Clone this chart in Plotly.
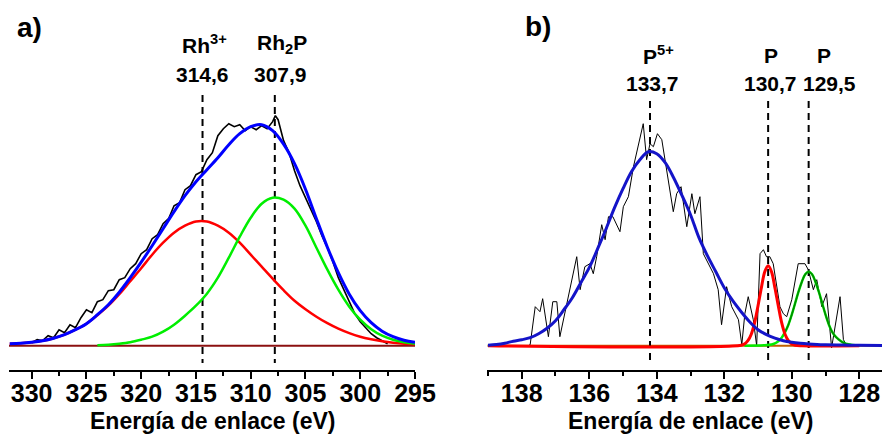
import plotly.graph_objects as go

# ---------------- Panel a) Rh 3d region ----------------
A_E_FIT = [332, 331, 330, 329, 328, 327, 326, 325, 324, 323, 322, 321, 320, 319, 318, 317,
           316, 315, 314, 313, 312, 311, 310, 309, 308, 307, 306, 305, 304, 303, 302, 301,
           300, 299, 298, 297, 296, 295]
A_RED = [2, 2.5, 3.5, 5, 7.5, 11, 16, 22, 30.5, 40, 51.5, 64.5, 77.5, 91, 103, 113,
         120, 124.2, 124.2, 120, 113, 103, 91, 79, 67, 55.5, 45, 36.5, 29, 22.5, 17, 12.5,
         9, 6.5, 4.5, 3, 2, 1.5]
A_GREEN = [None, None, None, None, None, None, None, None, 0.5, 1, 2, 3.5, 6, 9, 14, 21,
           30, 40, 52, 68, 88, 109, 128, 142, 148, 146, 137, 120, 98, 76, 56, 39,
           26, 16.5, 10, 6, 3.5, 2]
A_BLUE = [2, 2.5, 3.5, 5, 7.5, 11, 16, 22, 31, 41, 53.5, 68, 83.5, 100, 117, 134,
          150, 164, 176, 188, 201, 212, 219, 221, 215, 201.5, 182, 156.5, 127, 98.5, 73, 51.5,
          35, 23, 14.5, 9, 5.5, 3.5]
A_E_DATA = [330.0, 329.5, 329.0, 328.5, 328.0, 327.5, 327.0, 326.5, 326.0, 325.5, 325.0,
            324.5, 324.0, 323.5, 323.0, 322.5, 322.0, 321.5, 321.0, 320.5, 320.0, 319.5,
            319.0, 318.5, 318.0, 317.5, 317.0, 316.5, 316.0, 315.5, 315.0, 314.5, 314.0,
            313.5, 313.0, 312.5, 312.0, 311.5, 311.0, 310.5, 310.0, 309.5, 309.0, 308.5,
            308.0, 307.75, 307.5, 307.0, 306.5, 306.0, 305.5, 305.0, 304.5, 304.0, 303.5,
            303.0, 302.5, 302.0, 301.5, 301.0, 300.5, 300.0, 299.5, 299.0, 298.5, 298.0, 297.5]
A_DATA = [3, 6, 5, 10, 8, 16, 13, 21, 18, 28, 36,
          33, 44, 46, 55, 56, 66, 68, 77, 82, 92, 96,
          107, 111, 122, 127, 140, 143, 156, 160, 171, 174, 186,
          193, 210, 217, 222, 219, 221, 215, 219, 216, 220, 217,
          224, 230, 226, 205, 193, 175, 160, 148, 136, 124, 110,
          98, 84, 68, 56, 44, 32, 24, 18, 12, 8, 5, 2]
A_BASE_E = [332.07, 295]
A_BASE = [0, 0]
A_TICKS = [330, 325, 320, 315, 310, 305, 300, 295]
A_LINES = [314.4, 307.8]
A_NAMES = ["Rh<sup>3+</sup>", "Rh<sub>2</sub>P"]
A_VALUES = ["314,6", "307,9"]

# ---------------- Panel b) P 2p region ----------------
B_E_BLUE = [139.0, 138.75, 138.5, 138.25, 138.0, 137.75, 137.5, 137.25, 137.0, 136.75, 136.5,
            136.25, 136.0, 135.75, 135.5, 135.25, 135.0, 134.75, 134.5, 134.25, 134.0, 133.75,
            133.5, 133.25, 133.0, 132.75, 132.5, 132.25, 132.0, 131.75, 131.5, 131.25, 131.0,
            130.75, 130.5, 130.25, 130.0, 129.75, 129.5, 129.25, 129.0, 128.5, 128.0, 127.0]
B_BLUE = [0.5, 1.2, 2.5, 4.5, 6, 8, 12, 17.5, 25, 36, 48,
          63, 78, 97, 117, 138, 157, 174, 186, 194, 192, 183,
          168, 150, 131, 108, 90, 74, 58, 45, 34, 24, 16,
          11, 7.5, 5, 3.5, 2.5, 1.8, 1.3, 1, 0.6, 0.4, 0.2]
B_E_RED = [139.0, 131.5, 131.4, 131.3, 131.2, 131.1, 131.0, 130.9, 130.8, 130.7, 130.6, 130.5,
           130.4, 130.3, 130.2, 130.1, 130.0, 129.9, 129.7, 128.0]
B_RED = [0, 0.5, 1.8, 5, 11.5, 23, 40, 58, 74, 80, 74, 58,
         40, 23, 11.5, 5, 1.8, 0.5, 0, 0]
B_E_GREEN = [131.4, 130.8, 130.6, 130.5, 130.4, 130.3, 130.2, 130.1, 130.0, 129.9, 129.8, 129.7,
             129.6, 129.5, 129.4, 129.3, 129.2, 129.1, 129.0, 128.9, 128.8, 128.7, 128.6, 128.5,
             128.4, 128.2, 128.0]
B_GREEN = [0, 0.5, 1.2, 2.3, 4.5, 8, 13.5, 21, 31, 42.5, 54, 64,
           71.5, 74, 71.5, 64, 54, 42.5, 31, 21, 13.5, 9, 6, 3.5,
           2, 0.7, 0]
B_E_DATA = [137.80, 137.75, 137.60, 137.46, 137.38, 137.21, 137.08, 136.96, 136.87, 136.62,
            136.37, 136.27, 136.13, 135.98, 135.88, 135.78, 135.63, 135.53, 135.43, 135.30,
            135.09, 134.99, 134.84, 134.69, 134.55, 134.40, 134.30, 134.20, 134.10, 133.98,
            133.85, 133.76, 133.51, 133.41, 133.28, 133.11, 132.96, 132.87, 132.72, 132.62,
            132.42, 132.32, 132.18, 132.08, 131.93, 131.78, 131.58, 131.48, 131.39, 131.29,
            131.14, 131.04, 130.94, 130.84, 130.75, 130.65, 130.55, 130.45, 130.35, 130.25,
            130.15, 130.00, 129.81, 129.61, 129.51, 129.36, 129.26, 129.11, 128.97, 128.82,
            128.57, 128.47, 128.40]
B_DATA = [0, 1, 39, 34, 47, 9, 44, 44, 9, 49,
          89, 56, 79, 82, 72, 89, 121, 106, 129, 129,
          114, 139, 149, 179, 199, 222, 186, 202, 199, 212,
          206, 186, 134, 152, 159, 119, 152, 132, 149, 92,
          79, 72, 56, 21, 59, 39, 26, 1, 32, 49,
          26, 0, 92, 96, 89, 89, 82, 59, 39, 32,
          29, 46, 82, 82, 76, 56, 66, 39, 52, -2,
          49, 6, 2]
B_BASE_E = [139.02, 127.09]
B_BASE = [0, 0]
B_TICKS = [138, 136, 134, 132, 130, 128]
B_LINES = [134.2, 130.7, 129.5]
B_NAMES = ["P<sup>5+</sup>", "P", "P"]
B_VALUES = ["133,7", "130,7", "129,5"]

AXIS_TITLE = "Energía de enlace (eV)"

# ---------------- style / layout helpers ----------------
FONT = "Liberation Sans, Arial, sans-serif"
OFF = 8                      # page body margin of the html page
FW, FH = 890 - OFF, 435 - OFF


def px_x(px):
    return (px - OFF) / FW


def px_y(py):
    return 1 - (py - OFF) / FH


Y_RANGE = [-24.3, 285.7]
DASH_TOP_A, DASH_TOP_B, DASH_BOTTOM = 250.7, 244.7, -17.3

fig = go.Figure()


def line(x, y, color, width, xa, ya, shape="linear", dash="solid"):
    fig.add_trace(go.Scatter(x=x, y=y, mode="lines", xaxis=xa, yaxis=ya,
                             line=dict(color=color, width=width, shape=shape, dash=dash),
                             showlegend=False, hoverinfo="skip", connectgaps=False))


# panel a
line(A_BASE_E, A_BASE, "#8b1010", 2, "x", "y")
for pos in A_LINES:
    line([pos, pos], [DASH_TOP_A, DASH_BOTTOM], "black", 2, "x", "y", dash="7px,5px")
line(A_E_DATA, A_DATA, "black", 1.6, "x", "y")
line(A_E_FIT, A_RED, "#ff0000", 2.5, "x", "y", shape="spline")
line(A_E_FIT, A_GREEN, "#00ee00", 2.5, "x", "y", shape="spline")
line(A_E_FIT, A_BLUE, "#0000ff", 3, "x", "y", shape="spline")

# panel b
line(B_BASE_E, B_BASE, "#c06000", 2, "x2", "y2")
for pos in B_LINES:
    line([pos, pos], [DASH_TOP_B, DASH_BOTTOM], "black", 2, "x2", "y2", dash="7px,5px")
line(B_E_DATA, B_DATA, "black", 1, "x2", "y2")
line(B_E_GREEN, B_GREEN, "#00ee00", 2.5, "x2", "y2", shape="spline")
line(B_E_GREEN[6:], B_GREEN[6:], "#008800", 1.5, "x2", "y2", shape="spline")
line(B_E_RED, B_RED, "#ff0000", 3, "x2", "y2", shape="spline")
line(B_E_BLUE, B_BLUE, "#1414c8", 3, "x2", "y2", shape="spline")

axis_common = dict(showline=True, linewidth=2, linecolor="black", ticks="outside",
                   ticklen=7, tickwidth=2, tickcolor="black", showgrid=False,
                   zeroline=False, automargin=False, ticklabelstandoff=-7,
                   tickfont=dict(family=FONT, size=25, color="black", weight="bold"))

Y_DOMAIN = [px_y(370), px_y(60)]

fig.update_layout(
    width=FW, height=FH, margin=dict(l=0, r=0, t=0, b=0),
    paper_bgcolor="white", plot_bgcolor="white",
    xaxis=dict(domain=[px_x(9), px_x(415)], range=[332.07, 295], anchor="y",
               tickvals=A_TICKS, ticktext=["<b>%d</b>" % t for t in A_TICKS],
               minor=dict(ticks="outside", ticklen=4, tickwidth=2, tickcolor="black", dtick=2.5,
                          tick0=295),
               **axis_common),
    yaxis=dict(domain=Y_DOMAIN, range=Y_RANGE, visible=False, anchor="x"),
    xaxis2=dict(domain=[px_x(487.3), 1.0], range=[139.02, 127.09], anchor="y2",
                tickvals=B_TICKS, ticktext=["<b>%d</b>" % t for t in B_TICKS],
                minor=dict(ticks="outside", ticklen=4, tickwidth=2, tickcolor="black", dtick=1,
                           tick0=128),
                **axis_common),
    yaxis2=dict(domain=Y_DOMAIN, range=Y_RANGE, visible=False, anchor="x2"),
)


def label(text, x, xref, y, xshift, size=21):
    fig.add_annotation(text="<b>%s</b>" % text, x=x, xref=xref, y=y, yref="paper",
                       xshift=xshift, showarrow=False, xanchor="center", yanchor="middle",
                       font=dict(family=FONT, size=size, color="black"))


name_shift_a = [2, 7]
val_shift_a = [0, 6]
for pos, nm, val, s1, s2 in zip(A_LINES, A_NAMES, A_VALUES, name_shift_a, val_shift_a):
    label(nm, pos, "x", px_y(44), s1)
    label(val, pos, "x", px_y(74.5), s2)

name_shift_b = [8, 3, 15]
val_shift_b = [2, 2, 21]
for pos, nm, val, s1, s2 in zip(B_LINES, B_NAMES, B_VALUES, name_shift_b, val_shift_b):
    label(nm, pos, "x2", px_y(55), s1)
    label(val, pos, "x2", px_y(84), s2)

label(AXIS_TITLE, px_x(212.5), "paper", px_y(421), 0, size=23)
label(AXIS_TITLE, px_x(690.5), "paper", px_y(421), 0, size=23)
label("a)", px_x(29), "paper", px_y(27), 0, size=28)
label("b)", px_x(537.5), "paper", px_y(26), 0, size=28)

fig.write_html("out.html")
